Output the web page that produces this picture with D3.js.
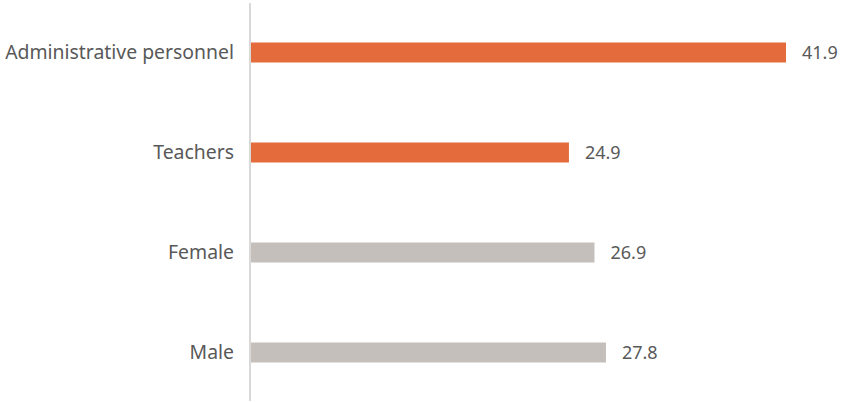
<!DOCTYPE html>
<html>
<head>
<meta charset="utf-8">
<script src="https://cdn.jsdelivr.net/npm/d3@7"></script>
<style>
  body { margin: 0; background: #fff; }
  svg text { font-family: "Noto Sans", sans-serif; }
</style>
</head>
<body>
<svg id="chart" width="842" height="402"></svg>
<script>
// categories, top to bottom
var categories = ["Administrative personnel", "Teachers", "Female", "Male"];
var values = [41.9, 24.9, 26.9, 27.8];
var groups = ["staff", "staff", "gender", "gender"];

var W = 842, H = 402;
var left = 251;
var colors = { staff: "#E46C3C", gender: "#C5BFBB" };

var svg = d3.select("#chart");

var x = d3.scaleLinear()
    .domain([0, 41.9])
    .range([left, 786]);

var y = d3.scaleBand()
    .domain(categories)
    .range([2.5, 402.5])
    .paddingInner(0.8)
    .paddingOuter(0.4);

// bars
svg.append("g").selectAll("rect")
    .data(categories)
    .enter().append("rect")
    .attr("x", x(0))
    .attr("y", function(d) { return y(d); })
    .attr("width", function(d, i) { return x(values[i]) - x(0); })
    .attr("height", y.bandwidth())
    .attr("fill", function(d, i) { return colors[groups[i]]; });

// value labels
svg.append("g").selectAll("text")
    .data(categories)
    .enter().append("text")
    .attr("x", function(d, i) { return x(values[i]) + 16; })
    .attr("y", function(d) { return y(d) + y.bandwidth() / 2; })
    .attr("dy", "0.35em")
    .attr("font-size", "18px")
    .attr("fill", "#595959")
    .text(function(d, i) { return values[i].toFixed(1); });

// category axis
var yAxis = d3.axisLeft(y).tickSize(0).tickPadding(16);
var ax = svg.append("g")
    .attr("transform", "translate(" + (left - 1) + ",0)")
    .call(yAxis);
ax.select(".domain").remove();
ax.selectAll("text")
    .attr("font-size", "19.4px")
    .attr("font-family", "Noto Sans, sans-serif")
    .attr("fill", "#595959");

svg.append("line")
    .attr("x1", left - 1).attr("x2", left - 1)
    .attr("y1", 3).attr("y2", 401)
    .attr("stroke", "#D9D9D9")
    .attr("stroke-width", 2);
</script>
</body>
</html>
